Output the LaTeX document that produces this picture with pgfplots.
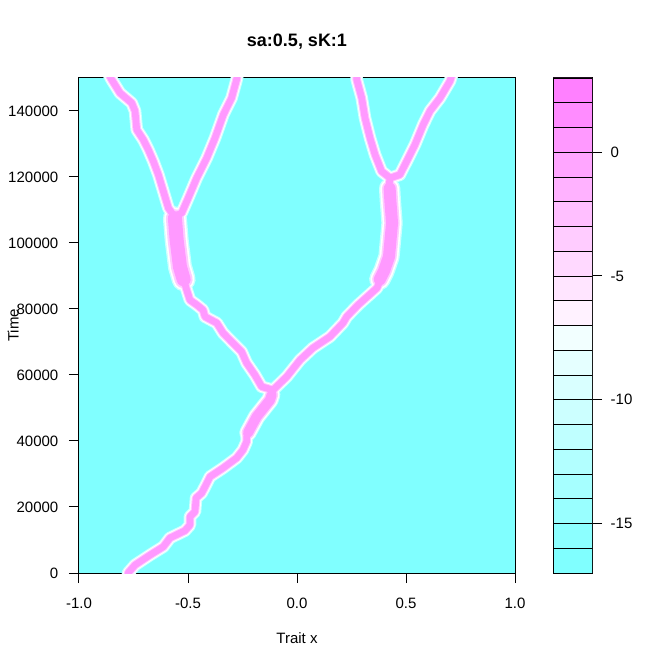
\documentclass[border=0pt]{standalone}
\usepackage{pgfplots}
\pgfplotsset{compat=1.18}
\usepackage{pgfplotstable}
\usepackage{fontspec}
\setmainfont{Liberation Sans}

% cm.colors(20)
\definecolor{cb0}{rgb}{0.50,1,1}
\definecolor{cb1}{rgb}{0.55,1,1}
\definecolor{cb2}{rgb}{0.60,1,1}
\definecolor{cb3}{rgb}{0.65,1,1}
\definecolor{cb4}{rgb}{0.70,1,1}
\definecolor{cb5}{rgb}{0.75,1,1}
\definecolor{cb6}{rgb}{0.80,1,1}
\definecolor{cb7}{rgb}{0.85,1,1}
\definecolor{cb8}{rgb}{0.90,1,1}
\definecolor{cb9}{rgb}{0.95,1,1}
\definecolor{cb10}{rgb}{1,0.95,1}
\definecolor{cb11}{rgb}{1,0.90,1}
\definecolor{cb12}{rgb}{1,0.85,1}
\definecolor{cb13}{rgb}{1,0.80,1}
\definecolor{cb14}{rgb}{1,0.75,1}
\definecolor{cb15}{rgb}{1,0.70,1}
\definecolor{cb16}{rgb}{1,0.65,1}
\definecolor{cb17}{rgb}{1,0.60,1}
\definecolor{cb18}{rgb}{1,0.55,1}
\definecolor{cb19}{rgb}{1,0.50,1}

% trunk, left branch, left-left branch
\pgfplotstableread{
x y
-0.775 0
-0.743 2424
-0.674 5455
-0.613 7970
-0.583 10606
-0.514 12818
-0.491 14545
-0.491 17061
-0.468 18576
-0.463 22727
-0.437 24242
-0.422 26152
-0.399 29182
-0.339 31818
-0.277 34848
-0.248 37273
-0.231 39788
-0.231 41303
-0.185 47364
-0.124 52424
-0.110 55454
-0.162 56455
-0.193 60000
-0.231 63636
-0.254 67061
-0.294 69697
-0.339 72727
-0.368 75758
-0.422 77667
-0.431 79697
-0.459 81212
-0.491 82727
-0.506 85758
-0.537 92818
-0.552 100909
-0.562 108000
-0.590 110606
-0.613 115667
-0.636 120697
-0.659 124758
-0.682 128273
-0.705 131303
-0.735 134333
-0.743 140000
-0.758 142424
-0.812 145455
-0.850 149485
-0.862 151000
}\pathA

% left-right branch
\pgfplotstableread{
x y
-0.562 108000
-0.529 109091
-0.499 113636
-0.460 119697
-0.414 125758
-0.376 131818
-0.338 138879
-0.300 143939
-0.277 149485
-0.273 151000
}\pathB

% right branch, right-left branch
\pgfplotstableread{
x y
-0.110 55454
-0.047 59485
0.014 64545
0.073 68182
0.151 71606
0.211 75758
0.228 77667
0.280 81212
0.367 86364
0.399 91515
0.422 95848
0.436 106061
0.427 113030
0.422 117576
0.427 119697
0.388 121727
0.358 126758
0.335 131818
0.312 137879
0.297 143939
0.274 149485
0.273 151000
}\pathC

% right-right branch
\pgfplotstableread{
x y
0.427 119697
0.472 120697
0.503 124758
0.541 129788
0.579 135848
0.610 140000
0.656 143939
0.702 149091
0.711 151000
}\pathD

% wider stems below the forks
\pgfplotstableread{
x y
-0.520 89000
-0.537 92818
-0.552 100909
-0.560 107500
}\stemL

\pgfplotstableread{
x y
0.380 89000
0.399 91515
0.422 95848
0.436 106061
0.428 113030
0.425 116500
}\stemR

\pgfplotstableread{
x y
-0.225 42500
-0.185 47364
-0.124 52424
-0.116 54000
}\stemT

% one colour layer over every lineage
\newcommand{\drawlayer}[5]{%
  \addplot[color=#1, line width=#2, line join=round, line cap=round] table {\pathA};
  \addplot[color=#1, line width=#2, line join=round, line cap=round] table {\pathB};
  \addplot[color=#1, line width=#2, line join=round, line cap=round] table {\pathC};
  \addplot[color=#1, line width=#2, line join=round, line cap=round] table {\pathD};
  \addplot[color=#1, line width=#3, line join=round, line cap=round] table {\stemL};
  \addplot[color=#1, line width=#4, line join=round, line cap=round] table {\stemR};
  \addplot[color=#1, line width=#5, line join=round, line cap=round] table {\stemT};
}

\begin{document}
\begin{tikzpicture}
\path[use as bounding box] (-59.25pt,-73.5pt) rectangle (444pt,429.75pt);

\begin{axis}[
  at={(0pt,0pt)}, anchor=south west,
  scale only axis, width=327pt, height=371.25pt,
  xmin=-1, xmax=1, ymin=0, ymax=150000,
  scaled y ticks=false,
  axis background/.style={fill=cb0},
  axis line style={line width=0.75pt},
  xtick={-1,-0.5,0,0.5,1},
  xticklabels={-1.0,-0.5,0.0,0.5,1.0},
  ytick={0,20000,40000,60000,80000,100000,120000,140000},
  yticklabels={0,20000,40000,60000,80000,100000,120000,140000},
  tick align=outside, tick pos=left,
  major tick length=7.5pt,
  tick style={black, line width=0.75pt},
  every tick label/.append style={font=\fontsize{11.25}{13}\selectfont},
  xticklabel style={yshift=-7.5pt},
  yticklabel style={anchor=east, xshift=-4.5pt},
  title={sa:0.5, sK:1},
  title style={at={(axis description cs:0.5,1.057)}, anchor=center,
    font=\fontsize{13.5}{16}\selectfont\bfseries},
  xlabel={Trait x},
  xlabel style={at={(axis description cs:0.5,-0.131)}, anchor=center},
  ylabel={Time},
  ylabel style={at={(axis description cs:-0.151,0.5)}, anchor=center},
  label style={font=\fontsize{11.25}{13}\selectfont},
]
\drawlayer{cb6}{9.5pt}{18pt}{16pt}{13pt}
\drawlayer{white}{8pt}{16pt}{14pt}{11.5pt}
\drawlayer{cb13}{6.5pt}{13.5pt}{11.5pt}{9.5pt}
\drawlayer{cb17}{5pt}{10.5pt}{9pt}{7.5pt}
\end{axis}

% colour key
\begin{axis}[
  at={(355.5pt,0pt)}, anchor=south west,
  scale only axis, width=29.25pt, height=371.25pt,
  xmin=0, xmax=1, ymin=-17, ymax=3,
  axis line style={line width=0.75pt},
  xtick=\empty,
  ytick={-15,-10,-5,0},
  yticklabels={-15,-10,-5,0},
  ytick pos=right, yticklabel pos=right,
  tick align=outside, major tick length=7.5pt,
  tick style={black, line width=0.75pt},
  every tick label/.append style={font=\fontsize{11.25}{13}\selectfont},
  yticklabel style={anchor=west, xshift=3pt},
]
\addplot[fill=cb0, draw=black] coordinates {(0,-17) (1,-17) (1,-16) (0,-16) (0,-17)};
\addplot[fill=cb1, draw=black] coordinates {(0,-16) (1,-16) (1,-15) (0,-15) (0,-16)};
\addplot[fill=cb2, draw=black] coordinates {(0,-15) (1,-15) (1,-14) (0,-14) (0,-15)};
\addplot[fill=cb3, draw=black] coordinates {(0,-14) (1,-14) (1,-13) (0,-13) (0,-14)};
\addplot[fill=cb4, draw=black] coordinates {(0,-13) (1,-13) (1,-12) (0,-12) (0,-13)};
\addplot[fill=cb5, draw=black] coordinates {(0,-12) (1,-12) (1,-11) (0,-11) (0,-12)};
\addplot[fill=cb6, draw=black] coordinates {(0,-11) (1,-11) (1,-10) (0,-10) (0,-11)};
\addplot[fill=cb7, draw=black] coordinates {(0,-10) (1,-10) (1,-9) (0,-9) (0,-10)};
\addplot[fill=cb8, draw=black] coordinates {(0,-9) (1,-9) (1,-8) (0,-8) (0,-9)};
\addplot[fill=cb9, draw=black] coordinates {(0,-8) (1,-8) (1,-7) (0,-7) (0,-8)};
\addplot[fill=cb10, draw=black] coordinates {(0,-7) (1,-7) (1,-6) (0,-6) (0,-7)};
\addplot[fill=cb11, draw=black] coordinates {(0,-6) (1,-6) (1,-5) (0,-5) (0,-6)};
\addplot[fill=cb12, draw=black] coordinates {(0,-5) (1,-5) (1,-4) (0,-4) (0,-5)};
\addplot[fill=cb13, draw=black] coordinates {(0,-4) (1,-4) (1,-3) (0,-3) (0,-4)};
\addplot[fill=cb14, draw=black] coordinates {(0,-3) (1,-3) (1,-2) (0,-2) (0,-3)};
\addplot[fill=cb15, draw=black] coordinates {(0,-2) (1,-2) (1,-1) (0,-1) (0,-2)};
\addplot[fill=cb16, draw=black] coordinates {(0,-1) (1,-1) (1,0) (0,0) (0,-1)};
\addplot[fill=cb17, draw=black] coordinates {(0,0) (1,0) (1,1) (0,1) (0,0)};
\addplot[fill=cb18, draw=black] coordinates {(0,1) (1,1) (1,2) (0,2) (0,1)};
\addplot[fill=cb19, draw=black] coordinates {(0,2) (1,2) (1,3) (0,3) (0,2)};
\end{axis}
\end{tikzpicture}
\end{document}
